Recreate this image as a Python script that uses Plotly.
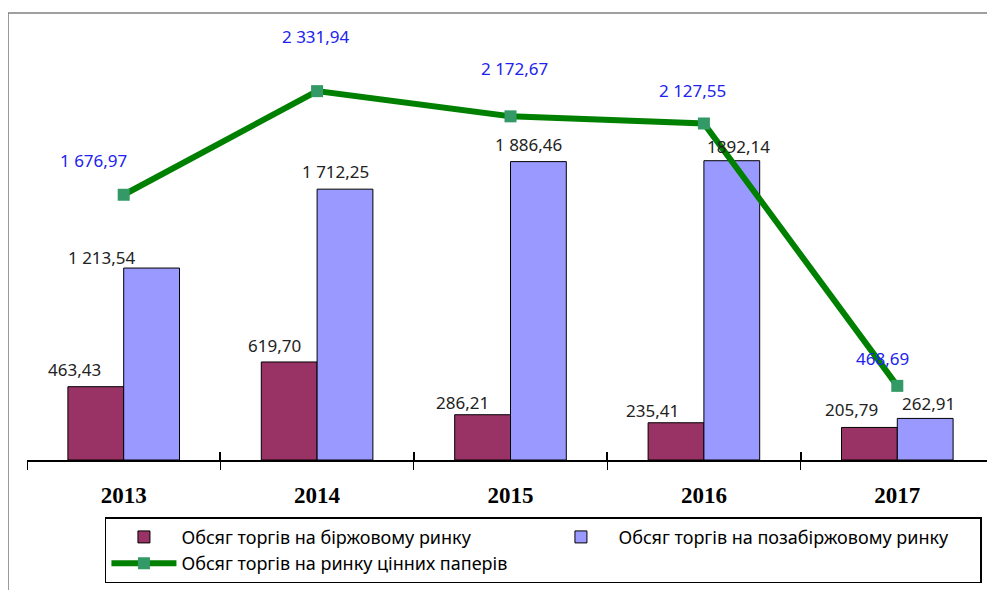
import plotly.graph_objects as go

years = ['2013', '2014', '2015', '2016', '2017']

# обсяги торгів, млрд грн
exchange = [463.43, 619.70, 286.21, 235.41, 205.79]
otc = [1213.54, 1712.25, 1886.46, 1892.14, 262.91]
total = [1676.97, 2331.94, 2172.67, 2127.55, 468.69]

exchange_labels = ['463,43', '619,70', '286,21', '235,41', '205,79']
otc_labels = ['1 213,54', '1 712,25', '1 886,46', '1892,14', '262,91']
total_labels = ['1 676,97', '2 331,94', '2 172,67', '2 127,55', '468,69']

names = ['Обсяг торгів на біржовому ринку',
         'Обсяг торгів на позабіржовому ринку',
         'Обсяг торгів на ринку цінних паперів']

# label nudges in px (as placed in the original chart)
bar_off = 28
exch_dx = [-21, -15, -20, -23, -18]
exch_dy = [17, 16, 12, 12, 18]
otc_dx = [-50, -10, -10, 7, 3]
otc_dy = [11, 18, 17, 14, 15]
tot_dx = [-30, -1, 4, -11, -15]
tot_dy = [34, 55, 48, 33, 27]

fig = go.Figure()

fig.add_trace(go.Bar(x=years, y=exchange, name=names[0],
                     marker=dict(color='#993366', line=dict(color='black', width=1))))
fig.add_trace(go.Bar(x=years, y=otc, name=names[1],
                     marker=dict(color='#9999FF', line=dict(color='black', width=1))))
fig.add_trace(go.Scatter(x=years, y=total, name=names[2], mode='lines+markers',
                         line=dict(color='#008000', width=6),
                         marker=dict(symbol='square', size=12, color='#339966')))

# invisible trace so the second axis (upward ticks) gets drawn
fig.add_trace(go.Scatter(x=years, y=[0] * 5, xaxis='x2', mode='markers',
                         marker=dict(opacity=0), showlegend=False, hoverinfo='skip'))

lab_font = dict(family='Noto Sans', size=17)
for i in range(len(years)):
    fig.add_annotation(x=i, y=exchange[i], text=exchange_labels[i], showarrow=False,
                       xshift=-bar_off + exch_dx[i], yshift=exch_dy[i],
                       font=dict(lab_font, color='#222222'))
    fig.add_annotation(x=i, y=otc[i], text=otc_labels[i], showarrow=False,
                       xshift=bar_off + otc_dx[i], yshift=otc_dy[i],
                       font=dict(lab_font, color='#222222'))
    fig.add_annotation(x=i, y=total[i], text=total_labels[i], showarrow=False,
                       xshift=tot_dx[i], yshift=tot_dy[i],
                       font=dict(lab_font, color='#2222EE'))

# outer chart frame
fig.add_shape(type='rect', xref='paper', yref='paper',
              x0=-0.0196, x1=1.01, y0=-0.31, y1=1.0,
              line=dict(color='#808080', width=1.5), layer='below')

# page body has an 8px margin, so the figure is a bit smaller than the window
fig.update_layout(
    width=987, height=582,
    margin=dict(l=19, r=1, t=5, b=130, autoexpand=False),
    paper_bgcolor='white', plot_bgcolor='white',
    barmode='group', bargap=0.423, bargroupgap=0,
    xaxis=dict(type='category', tickson='boundaries', ticks='outside', ticklen=8,
               tickcolor='black', showline=True, linecolor='black', linewidth=1.5,
               showgrid=False, range=[-0.5, 4.5],
               tickfont=dict(family='Liberation Serif', size=23, color='black',
                             weight='bold'),
               ticklabelstandoff=14),
    xaxis2=dict(type='category', overlaying='x', anchor='y', side='bottom',
                tickson='boundaries', ticks='inside', ticklen=8, tickcolor='black',
                tickwidth=1.5, showticklabels=False, showgrid=False, range=[-0.5, 4.5]),
    yaxis=dict(range=[0, 2826], visible=False, showgrid=False),
    legend=dict(orientation='h', x=0.0806, xanchor='left', y=-0.128, yanchor='top',
                entrywidth=357, itemwidth=65, bordercolor='black', borderwidth=1.5,
                bgcolor='white', tracegroupgap=0,
                font=dict(family='Noto Sans', size=18, color='black')),
    showlegend=True,
)

fig.write_html('out.html')
